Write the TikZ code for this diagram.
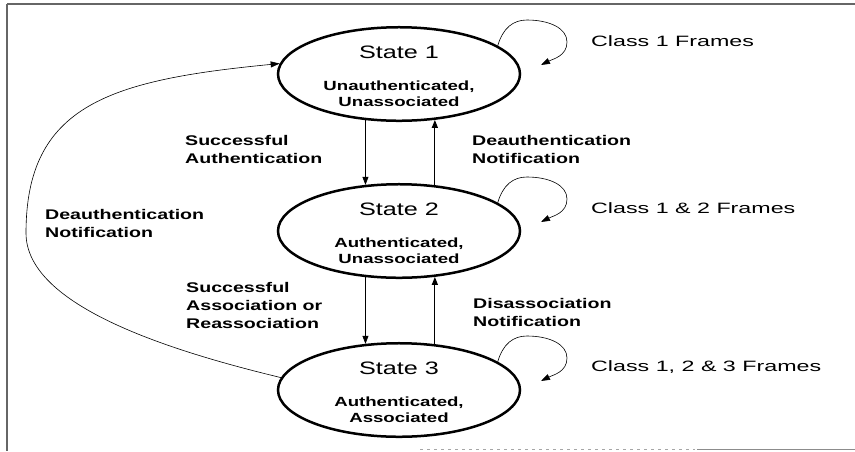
\documentclass[tikz,border=0pt]{standalone}
\usepackage{fontspec}
\setmainfont{Liberation Sans}[FakeStretch=1.4]
\newfontfamily\classfont{Liberation Sans}[FakeStretch=1.55]
\usetikzlibrary{arrows.meta,shapes.geometric,calc}

\begin{document}
\begin{tikzpicture}[x=1pt,y=-1pt,
  state/.style={draw, ellipse, line width=2.5pt, minimum width=242pt,
    minimum height=92pt, inner sep=0pt, align=center,
    font=\fontsize{13.3}{16}\selectfont\bfseries},
  edgelbl/.style={anchor=base west, align=left, inner sep=0pt,
    font=\fontsize{14}{18}\selectfont\bfseries},
  classlbl/.style={anchor=base west, inner sep=0pt,
    font=\classfont\fontsize{15}{18}\selectfont},
  downarr/.style={line width=0.7pt, -{Triangle[length=8pt,width=6pt]}},
  uparr/.style={line width=1.2pt, -{Triangle[length=8pt,width=6pt]}},
  thin arr/.style={line width=0.6pt, -{Triangle[length=9pt,width=6pt]}},
  frameline/.style={draw=black!60, line width=1.1pt}
]
\useasboundingbox (0,0) rectangle (855,451);

% outer frame remnants
\draw[frameline] (7,4) -- (855,4);
\draw[frameline] (7,4) -- (7,451);
\draw[draw=black!35, line width=1pt, dash pattern=on 3pt off 4pt] (420,449) -- (695,449);
\draw[draw=black!45, line width=1pt] (697,449) -- (855,449);

% states
\newcommand{\ttl}[1]{{\fontsize{18}{18}\mdseries\selectfont\rule{0pt}{18pt}#1}\\[16pt]}
\node[state] (s1) at (399,74) {\ttl{State 1}Unauthenticated,\\Unassociated};
\node[state] (s2) at (399,231) {\ttl{State 2}Authenticated,\\Unassociated};
\node[state] (s3) at (399,390) {\ttl{State 3}Authenticated,\\Associated};

% transitions between neighbouring states (labels anchored on their last line)
\draw[downarr] (s1.-126.7) -- (s2.126.7);
\draw[uparr] (s2.52.4) -- (s1.-52.4);
\draw[downarr] (s2.-126.7) -- (s3.126.7);
\draw[uparr] (s3.52.4) -- (s2.-52.4);

\node[edgelbl] (l1) at (185,163) {Successful\\Authentication};
\node[edgelbl] (l2) at (472,163) {Deauthentication\\Notification};
\node[edgelbl] (l4) at (186,328) {Successful\\Association or\\Reassociation};
\node[edgelbl] (l5) at (473,326) {Disassociation\\Notification};

% return from state 3 to state 1
\coordinate (far) at (26,233);
\draw[thin arr] (s3.174) .. controls (158,348) and (26,303) .. (far)
  .. controls (26,105) and (110,80) .. (s1.175);
\node[edgelbl] (l3) at (45,237) {Deauthentication\\Notification};

% self loops
\foreach \s in {s1,s2,s3} {
  \coordinate (\s tip) at ($(\s.center)+(142,-9)$);
  \draw[thin arr] (\s.16)
    .. controls ($(\s.center)+(104,-46)$) and ($(\s.center)+(114,-54)$) .. ($(\s.center)+(128,-54)$)
    .. controls ($(\s.center)+(150,-54)$) and ($(\s.center)+(168,-46)$) .. ($(\s.center)+(168,-32)$)
    .. controls ($(\s.center)+(168,-18)$) and ($(\s.center)+(154,-15)$) .. (\s tip);
}
\node[classlbl] (c1) at (591,46) {Class 1 Frames};
\node[classlbl] (c2) at (591,213) {Class 1 \& 2 Frames};
\node[classlbl] (c3) at (591,371) {Class 1, 2 \& 3 Frames};
\end{tikzpicture}
\end{document}
